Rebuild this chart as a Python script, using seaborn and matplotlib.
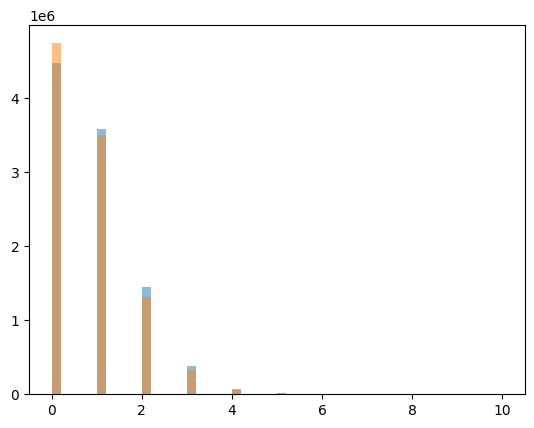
import matplotlib
matplotlib.use("Agg")
import matplotlib.pyplot as plt
import numpy as np
import pandas as pd
import seaborn as sns

# outcome values and how often each one came up, for the two samples
values = [0, 1, 2, 3, 4, 5, 6, 7, 8, 9, 10]
counts_a = [4477000, 3590000, 1446000, 378000, 72000, 12000, 1600, 180, 15, 2, 1]
counts_b = [4757000, 3510000, 1311000, 328000, 60000, 8700, 1100, 110, 9, 1, 1]

df = pd.DataFrame(dict(value=values, a=counts_a, b=counts_b))

fig = plt.figure(figsize=(5.34, 4.28), dpi=100)
ax = fig.add_axes([29 / 534, 34 / 428, 496 / 534, 369 / 428])

sns.histplot(ax=ax, data=df, x="value", weights="a", bins=50, binrange=(0, 10),
             color="C0", alpha=0.5, linewidth=0)
sns.histplot(ax=ax, data=df, x="value", weights="b", bins=50, binrange=(0, 10),
             color="C1", alpha=0.5, linewidth=0)

ax.set_xlabel("")
ax.set_ylabel("")

fig.savefig("out.png", dpi=100)
